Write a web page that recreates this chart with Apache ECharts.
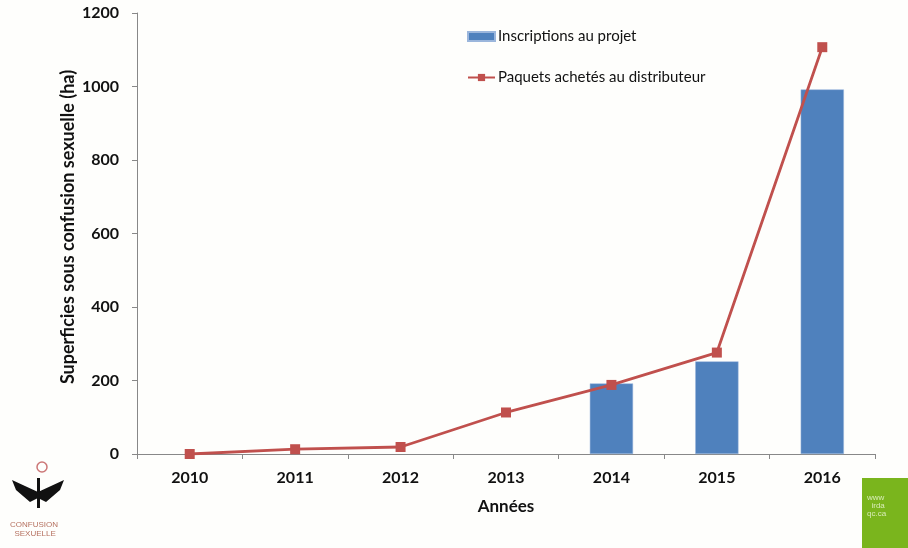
<!DOCTYPE html>
<html><head><meta charset="utf-8">
<script src="https://cdn.jsdelivr.net/npm/echarts@6/dist/echarts.min.js"></script>
<style>html,body{margin:0;padding:0;background:#fefefc;}#c{width:908px;height:548px;}</style>
</head><body><div id="c"></div>
<script>
const categories = ['2010','2011','2012','2013','2014','2015','2016'];
const inscriptions = [null, null, null, null, 192, 252, 992];
const paquets = [0, 13, 19, 113, 188, 276, 1107];
const yTicks = [0, 200, 400, 600, 800, 1000, 1200];
const yName = 'Superficies sous confusion sexuelle (ha)';
const xName = 'Années';

const FONT = 'Lato, "Open Sans", sans-serif';
const chart = echarts.init(document.getElementById('c'));
chart.setOption({
  backgroundColor: '#fefefc',
  animation: false,
  grid: { left: 137, right: 33, top: 13, bottom: 94, containLabel: false },
  legend: {
    orient: 'vertical', left: 467, top: 29, itemGap: 26, padding: 0,
    textStyle: { fontFamily: FONT, fontSize: 15, color: '#111', padding: [0, 0, 0, -2] },
    itemWidth: 27, itemHeight: 9,
    data: [
      { name: 'Inscriptions au projet', icon: 'rect' },
      { name: 'Paquets achetés au distributeur' }
    ]
  },
  xAxis: {
    type: 'category', data: categories,
    name: xName, nameLocation: 'middle', nameGap: 44,
    nameTextStyle: { fontFamily: FONT, fontWeight: 'bold', fontSize: 17, color: '#111' },
    axisLine: { lineStyle: { color: '#888' } },
    axisTick: { show: true, length: 5, lineStyle: { color: '#888' } },
    axisLabel: { fontFamily: FONT, fontWeight: 'bold', fontSize: 16, color: '#111', margin: 16 }
  },
  yAxis: {
    type: 'value', min: yTicks[0], max: yTicks[yTicks.length-1], interval: 200,
    axisLine: { show: true, lineStyle: { color: '#888' } },
    axisTick: { show: true, length: 5, lineStyle: { color: '#888' } },
    splitLine: { show: false },
    axisLabel: { fontFamily: FONT, fontWeight: 'bold', fontSize: 16, color: '#111', margin: 18,
      formatter: v => String(v) }
  },
  series: [
    { name: 'Inscriptions au projet', type: 'bar', data: inscriptions, barWidth: '41%',
      itemStyle: { color: '#4f81bd', borderColor: '#9bb6dc', borderWidth: 0.5 } },
    { name: 'Paquets achetés au distributeur', type: 'line', data: paquets,
      symbol: 'rect', symbolSize: 10,
      lineStyle: { color: '#c0504d', width: 2.8 },
      itemStyle: { color: '#c0504d' } }
  ],
  graphic: [
    { type: 'text', x: 68, y: 227, rotation: Math.PI / 2,
      style: { text: yName, fill: '#111', font: 'bold 18px ' + FONT, align: 'center', verticalAlign: 'middle' } },
    { type: 'rect', left: 862, top: 478, shape: { width: 46, height: 70 }, style: { fill: '#7ab51d' } },
    { type: 'text', left: 867, top: 494, style: { text: 'www\n  irda\nqc.ca', fill: '#d8ecb8', font: '8px sans-serif', lineHeight: 8 } },
    { type: 'polygon', shape: { points: [[38,492],[12,480],[16,490],[30,502],[38,498],[46,502],[60,490],[64,480]] }, style: { fill: '#111' } },
    { type: 'rect', shape: { x: 37, y: 478, width: 3, height: 30 }, style: { fill: '#111' } },
    { type: 'circle', shape: { cx: 42, cy: 467, r: 5 }, style: { fill: 'none', stroke: '#c77', lineWidth: 1.5 } },
    { type: 'text', left: 10, top: 520, style: { text: 'CONFUSION\n  SEXUELLE', fill: '#b5705f', font: '8px sans-serif', lineHeight: 9 } }
  ]
});
</script></body></html>
